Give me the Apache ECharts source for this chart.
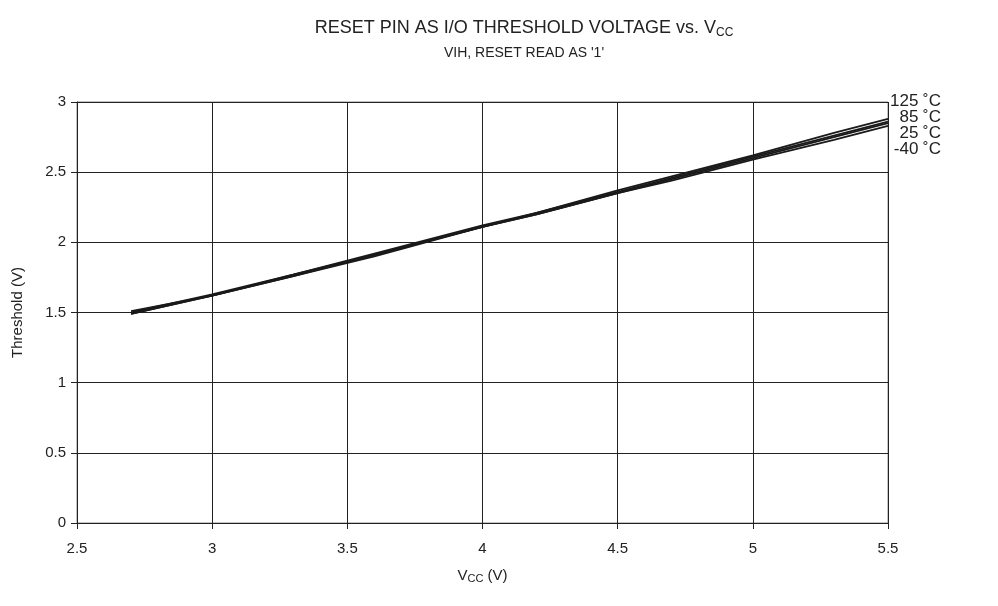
<!DOCTYPE html>
<html>
<head>
<meta charset="utf-8">
<script src="https://cdn.jsdelivr.net/npm/echarts@6/dist/echarts.min.js"></script>
<style>
  html, body { margin: 0; padding: 0; background: #fff; }
  #chart { width: 998px; height: 606px; }
</style>
</head>
<body>
<div id="chart"></div>
<script>
// Vcc points (V)
const vcc = [2.7, 3.0, 3.3, 3.6, 4.0, 4.2, 4.5, 4.7, 5.0, 5.3, 5.5]
// threshold (V) per temperature
const t125 = [1.50, 1.63, 1.77, 1.92, 2.12, 2.21, 2.37, 2.47, 2.62, 2.78, 2.88]
const t85 = [1.51, 1.62, 1.77, 1.91, 2.11, 2.21, 2.36, 2.46, 2.61, 2.76, 2.86]
const t25 = [1.49, 1.62, 1.76, 1.91, 2.11, 2.20, 2.35, 2.45, 2.60, 2.75, 2.85]
const tm40 = [1.49, 1.62, 1.76, 1.90, 2.11, 2.20, 2.35, 2.44, 2.59, 2.73, 2.83]
const seriesNames = ['125 ˚C', '85 ˚C', '25 ˚C', '-40 ˚C']
const seriesData = [t125, t85, t25, tm40]

const font = '"Liberation Sans", Arial, sans-serif'
const ink = '#222'

const chart = echarts.init(document.getElementById('chart'))

const series = seriesData.map((ys, i) => ({
  name: seriesNames[i],
  type: 'line',
  symbol: 'none',
  lineStyle: { color: '#1a1a1a', width: 1.8 },
  data: vcc.map((x, j) => [x, ys[j]])
}))

const labels = seriesNames.map((n, i) => ({
  type: 'text',
  right: 57,
  top: 93 + i * 16,
  style: { text: n, font: '17px ' + font, fill: ink, textAlign: 'right' }
}))

chart.setOption({
  animation: false,
  title: {
    text: 'RESET PIN AS I/O THRESHOLD VOLTAGE vs. V{sub|CC}',
    subtext: "VIH, RESET READ AS '1'",
    left: 519,
    textAlign: 'center',
    top: 13,
    itemGap: 9,
    textStyle: {
      fontFamily: font, fontSize: 18, fontWeight: 'normal', color: ink,
      rich: { sub: { fontFamily: font, fontSize: 12, color: ink, verticalAlign: 'bottom', padding: [9, 0, 0, 0] } }
    },
    subtextStyle: { fontFamily: font, fontSize: 14, color: ink }
  },
  grid: { left: 77, right: 110, top: 102, bottom: 83, show: true, borderColor: '#888', borderWidth: 1 },
  xAxis: {
    type: 'value',
    min: 2.5, max: 5.5, interval: 0.5,
    name: 'V{sub|CC} (V)',
    nameLocation: 'middle',
    nameGap: 44,
    nameTextStyle: {
      fontFamily: font, fontSize: 15, color: ink,
      rich: { sub: { fontFamily: font, fontSize: 11, color: ink, verticalAlign: 'bottom', padding: [6, 0, 0, 0] } }
    },
    axisLine: { lineStyle: { color: ink } },
    axisTick: { show: true, length: 6, lineStyle: { color: ink } },
    axisLabel: { fontFamily: font, fontSize: 15, color: ink, margin: 18 },
    splitLine: { show: true, lineStyle: { color: ink, width: 1 } }
  },
  yAxis: {
    type: 'value',
    min: 0, max: 3, interval: 0.5,
    name: 'Threshold (V)',
    nameLocation: 'middle',
    nameGap: 52,
    nameTextStyle: { fontFamily: font, fontSize: 15, color: ink },
    axisLine: { show: true, lineStyle: { color: ink } },
    axisTick: { show: true, length: 6, lineStyle: { color: ink } },
    axisLabel: { fontFamily: font, fontSize: 15, color: ink, margin: 11 },
    splitLine: { show: true, lineStyle: { color: ink, width: 1 } }
  },
  graphic: labels,
  series: series
})
</script>
</body>
</html>
